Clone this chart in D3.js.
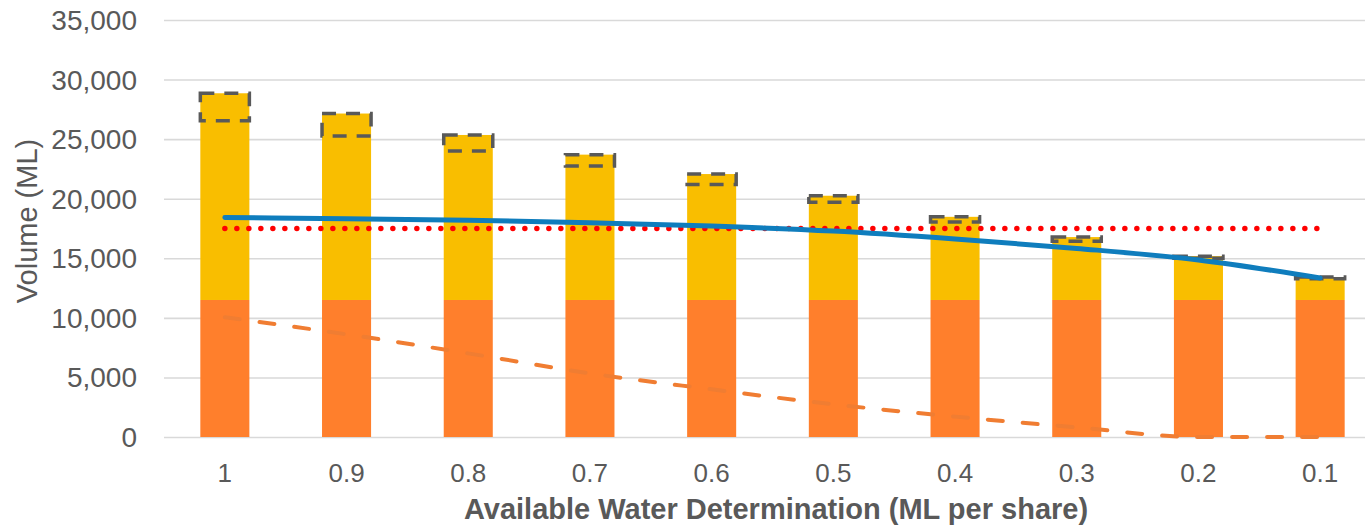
<!DOCTYPE html>
<html>
<head>
<meta charset="utf-8">
<script src="https://cdn.jsdelivr.net/npm/d3@7"></script>
<style>
  html, body { margin: 0; padding: 0; background: #ffffff; }
  svg { display: block; }
  text { font-family: "Liberation Sans", Arial, sans-serif; fill: #595959; }
</style>
</head>
<body>
<svg id="chart" width="1365" height="529"></svg>
<script>
// ---- Data ----
const categories = ["1", "0.9", "0.8", "0.7", "0.6", "0.5", "0.4", "0.3", "0.2", "0.1"];
const baseVolume = [11500, 11500, 11500, 11500, 11500, 11500, 11500, 11500, 11500, 11500];
const totalVolume = [28850, 27150, 25350, 23700, 22070, 20250, 18480, 16780, 15180, 13430];
const rangeLower = [26550, 25260, 24000, 22750, 21200, 19700, 18050, 16430, 15000, 13280];
const blueSeries = [18420, 18320, 18200, 17980, 17700, 17280, 16620, 15830, 14860, 13350];
const thresholdSeries = [17500, 17500, 17500, 17500, 17500, 17500, 17500, 17500, 17500, 17500];
const dashedSeries = [10050, 8620, 7020, 5340, 4000, 2740, 1710, 810, 0, 0];
const yTicks = [0, 5000, 10000, 15000, 20000, 25000, 30000, 35000];
const yTitle = "Volume (ML)";
const xTitle = "Available Water Determination (ML per share)";

// ---- Layout ----
const plotLeft = 164, plotRight = 1381, plotTop = 20, plotBottom = 437;
const svg = d3.select("#chart");

const x = d3.scaleBand()
  .domain(categories)
  .range([plotLeft, plotRight])
  .paddingInner(0.597)
  .paddingOuter(0.2985);
const y = d3.scaleLinear().domain([0, 35000]).range([plotBottom, plotTop]);
const cx = d => x(d) + x.bandwidth() / 2;

// gridlines
const grid = svg.append("g")
  .attr("transform", `translate(${plotLeft},0)`)
  .call(d3.axisLeft(y).tickValues(yTicks).tickSize(-(plotRight - plotLeft)).tickFormat(""));
grid.select(".domain").remove();
grid.selectAll("line").attr("stroke", "#d9d9d9").attr("stroke-width", 1.6);

// y axis labels
const yAxis = svg.append("g")
  .attr("transform", `translate(${plotLeft},0)`)
  .call(d3.axisLeft(y).tickValues(yTicks).tickSize(0).tickPadding(27).tickFormat(d3.format(",")));
yAxis.select(".domain").remove();
yAxis.selectAll("text")
  .style("font-family", '"Liberation Sans", Arial, sans-serif')
  .style("font-size", "28px")
  .attr("fill", "#595959")
  .attr("dy", "0.34em");

// x axis labels
const xAxis = svg.append("g")
  .attr("transform", `translate(0,${plotBottom})`)
  .call(d3.axisBottom(x).tickSize(0).tickPadding(27));
xAxis.select(".domain").remove();
xAxis.selectAll("text")
  .style("font-family", '"Liberation Sans", Arial, sans-serif')
  .style("font-size", "26px")
  .attr("fill", "#595959");

// bars: base (orange)
const idx = d3.range(categories.length);
svg.append("g").selectAll("rect")
  .data(idx).join("rect")
  .attr("x", i => x(categories[i]))
  .attr("width", x.bandwidth())
  .attr("y", i => y(baseVolume[i]))
  .attr("height", i => y(0) - y(baseVolume[i]))
  .attr("fill", "#ff7f2c");

// bars: upper (yellow)
svg.append("g").selectAll("rect")
  .data(idx).join("rect")
  .attr("x", i => x(categories[i]))
  .attr("width", x.bandwidth())
  .attr("y", i => y(totalVolume[i]))
  .attr("height", i => y(baseVolume[i]) - y(totalVolume[i]))
  .attr("fill", "#f9be00");

// dashed range boxes
svg.append("g").selectAll("rect")
  .data(idx).join("rect")
  .attr("x", i => x(categories[i]))
  .attr("width", x.bandwidth())
  .attr("y", i => y(totalVolume[i]))
  .attr("height", i => Math.max(0.5, y(rangeLower[i]) - y(totalVolume[i])))
  .attr("fill", "none")
  .attr("stroke", "#595959")
  .attr("stroke-width", 3.5)
  .attr("stroke-dasharray", "14,10");

// red dotted threshold line
svg.append("path")
  .datum(idx)
  .attr("d", d3.line().x(i => cx(categories[i])).y(i => y(thresholdSeries[i])))
  .attr("fill", "none")
  .attr("stroke", "#ff0000")
  .attr("stroke-width", 5.5)
  .attr("stroke-linecap", "round")
  .attr("stroke-dasharray", "0,12");

// orange dashed line
svg.append("path")
  .datum(idx)
  .attr("d", d3.line().curve(d3.curveMonotoneX).x(i => cx(categories[i])).y(i => y(dashedSeries[i])))
  .attr("fill", "none")
  .attr("stroke", "#f07d32")
  .attr("stroke-width", 4)
  .attr("stroke-linecap", "round")
  .attr("stroke-dasharray", "15,20");

// blue line
svg.append("path")
  .datum(idx)
  .attr("d", d3.line().curve(d3.curveMonotoneX).x(i => cx(categories[i])).y(i => y(blueSeries[i])))
  .attr("fill", "none")
  .attr("stroke", "#0f7dbd")
  .attr("stroke-width", 5)
  .attr("stroke-linecap", "round");

// axis titles
svg.append("text")
  .attr("x", 776)
  .attr("y", 519)
  .attr("text-anchor", "middle")
  .style("font-size", "29px")
  .style("font-weight", "bold")
  .text(xTitle);

svg.append("text")
  .attr("transform", "translate(37,221) rotate(-90)")
  .attr("text-anchor", "middle")
  .style("font-size", "29px")
  .text(yTitle);
</script>
</body>
</html>
